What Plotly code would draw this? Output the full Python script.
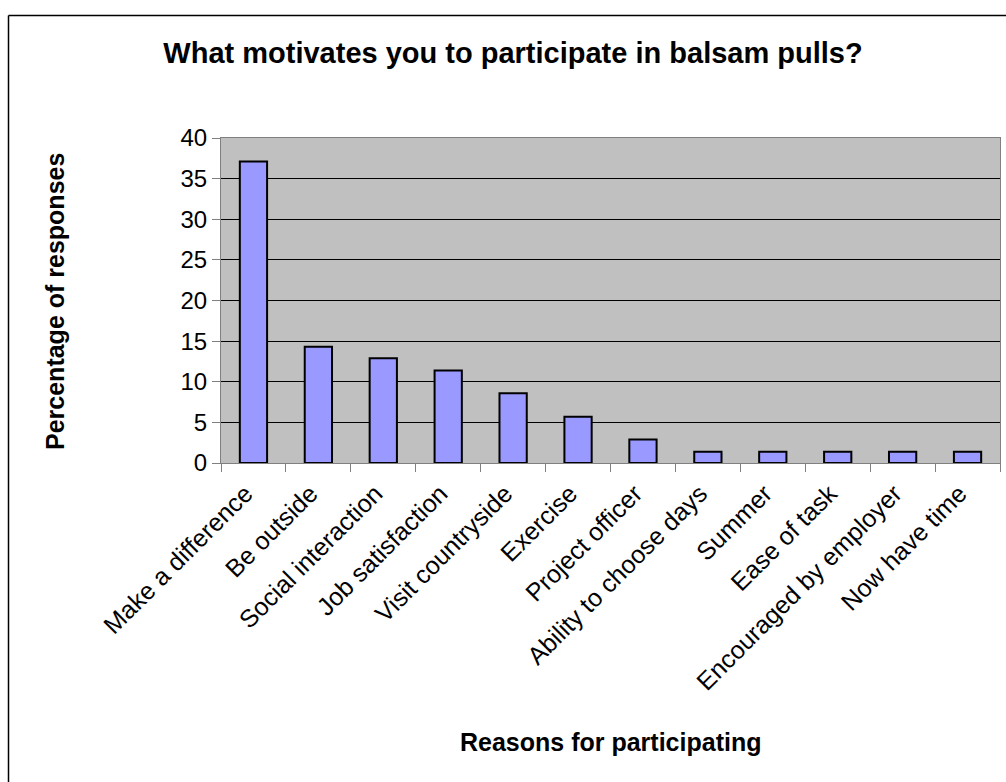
import plotly.graph_objects as go

categories = ["Make a difference", "Be outside", "Social interaction", "Job satisfaction",
              "Visit countryside", "Exercise", "Project officer", "Ability to choose days",
              "Summer", "Ease of task", "Encouraged by employer", "Now have time"]
percentages = [37.1, 14.3, 12.9, 11.4, 8.6, 5.7, 2.9, 1.4, 1.4, 1.4, 1.4, 1.4]
y_ticks = [0, 5, 10, 15, 20, 25, 30, 35, 40]

W, H = 1006, 782
L, R, T, B = 221, 1000, 138, 463
pw, ph = R - L, B - T


def px(x):
    return (x - L) / pw


def py(y):
    return (B - y) / ph


fig = go.Figure()
fig.add_trace(go.Bar(
    x=categories, y=percentages,
    marker=dict(color="#9999FF", line=dict(color="black", width=2)),
    width=0.42,
))

font = "Liberation Sans, Arial, sans-serif"
fig.update_layout(
    width=W, height=H,
    margin=dict(l=L, r=W - R, t=T, b=H - B, pad=0),
    paper_bgcolor="white", plot_bgcolor="#C0C0C0",
    showlegend=False,
    font=dict(family=font, color="black"),
    title=dict(text="<b>What motivates you to participate in balsam pulls?</b>",
               x=513 / W, xanchor="center", y=1 - 53 / H, yanchor="middle",
               font=dict(size=29, family=font)),
    xaxis=dict(tickangle=-45, tickfont=dict(size=25), showgrid=False,
               showline=True, linecolor="#808080", linewidth=1, mirror=True,
               ticks="outside", ticklen=8, tickcolor="#808080",
               tickson="boundaries", ticklabelshift=-8, ticklabelstandoff=5),
    yaxis=dict(range=[0, 40], tickvals=y_ticks, tickfont=dict(size=24),
               showgrid=True, gridcolor="black", gridwidth=1, zeroline=False,
               showline=True, linecolor="#808080", linewidth=1, mirror=True,
               ticks="outside", ticklen=8, tickcolor="#808080"),
    annotations=[
        dict(text="<b>Reasons for participating</b>", xref="paper", yref="paper",
             x=px(610), y=py(742), xanchor="center", yanchor="middle",
             showarrow=False, font=dict(size=25, family=font)),
        dict(text="<b>Percentage of responses</b>", xref="paper", yref="paper",
             x=px(55), y=py(302), xanchor="center", yanchor="middle", textangle=-90,
             showarrow=False, font=dict(size=25, family=font)),
    ],
    shapes=[
        dict(type="line", xref="paper", yref="paper",
             x0=px(8.5), x1=px(1010), y0=py(15.5), y1=py(15.5),
             line=dict(color="black", width=1.5)),
        dict(type="line", xref="paper", yref="paper",
             x0=px(8.5), x1=px(8.5), y0=py(15.5), y1=py(790),
             line=dict(color="black", width=1.5)),
    ],
)

fig.write_html("out.html", config={"displayModeBar": False},
               post_script="document.body.style.margin='0';document.body.style.overflow='hidden';")
